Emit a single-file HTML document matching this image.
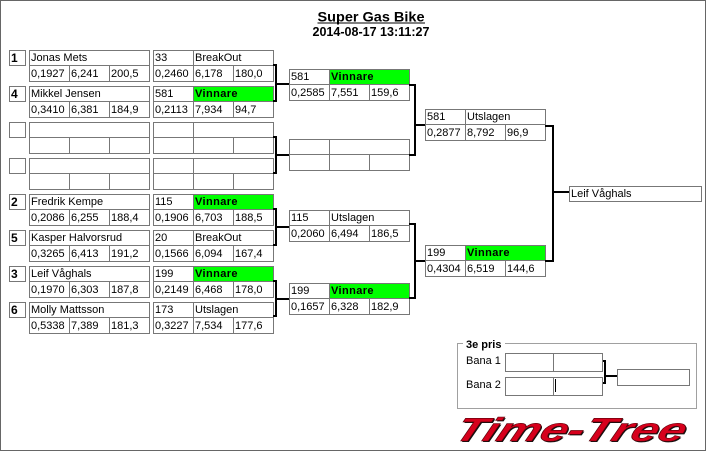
<!DOCTYPE html>
<html><head><meta charset="utf-8"><style>
html,body{margin:0;padding:0;background:#fff;}
svg{display:block;}
text{font-family:"Liberation Sans",Arial,sans-serif;font-size:11px;fill:#000;}
.b{font-weight:bold;}
.v{font-weight:bold;letter-spacing:0.4px;}
.g{fill:#00ff00;}
</style></head><body>
<svg width="706" height="452" viewBox="0 0 706 452" xmlns="http://www.w3.org/2000/svg">
<defs>
<g id="seed"><rect x="9.5" y="0.5" width="16" height="15" fill="none" stroke="#777"/></g>
<g id="nb" fill="none" stroke="#777"><rect x="0.5" y="0.5" width="120" height="31"/><path d="M0.5 15.5H120.5M40.5 15.5V31.5M80.5 15.5V31.5"/></g>
<g id="box" fill="none" stroke="#777"><rect x="0.5" y="0.5" width="120" height="31"/><path d="M0.5 15.5H120.5M40.5 0.5V31.5M80.5 15.5V31.5"/></g>
</defs>
<rect x="0.5" y="0.5" width="705" height="450" fill="#fff" stroke="#666"/>

<!-- title -->
<text x="371" y="21.5" text-anchor="middle" class="b" style="font-size:14px" textLength="107" lengthAdjust="spacingAndGlyphs">Super Gas Bike</text>
<line x1="317.5" y1="23" x2="425" y2="23" stroke="#000" stroke-width="1"/>
<text x="371" y="36" text-anchor="middle" class="b" style="font-size:13px" textLength="117" lengthAdjust="spacingAndGlyphs">2014-08-17 13:11:27</text>

<!-- green fills -->
<rect class="g" x="194" y="87" width="79" height="14"/>
<rect class="g" x="194" y="195" width="79" height="14"/>
<rect class="g" x="194" y="267" width="79" height="14"/>
<rect class="g" x="330" y="70" width="79" height="14"/>
<rect class="g" x="330" y="284" width="79" height="14"/>
<rect class="g" x="466" y="246" width="79" height="14"/>

<!-- round 1 frames -->
<use href="#seed" y="50"/><use href="#nb" x="29" y="50"/><use href="#box" x="153" y="50"/>
<use href="#seed" y="86"/><use href="#nb" x="29" y="86"/><use href="#box" x="153" y="86"/>
<use href="#seed" y="122"/><use href="#nb" x="29" y="122"/><use href="#box" x="153" y="122"/>
<use href="#seed" y="158"/><use href="#nb" x="29" y="158"/><use href="#box" x="153" y="158"/>
<use href="#seed" y="194"/><use href="#nb" x="29" y="194"/><use href="#box" x="153" y="194"/>
<use href="#seed" y="230"/><use href="#nb" x="29" y="230"/><use href="#box" x="153" y="230"/>
<use href="#seed" y="266"/><use href="#nb" x="29" y="266"/><use href="#box" x="153" y="266"/>
<use href="#seed" y="302"/><use href="#nb" x="29" y="302"/><use href="#box" x="153" y="302"/>

<!-- round 2/3 frames -->
<use href="#box" x="289" y="69"/>
<use href="#box" x="289" y="139"/>
<use href="#box" x="289" y="210"/>
<use href="#box" x="289" y="283"/>
<use href="#box" x="425" y="109"/>
<use href="#box" x="425" y="245"/>
<rect x="569.5" y="186.5" width="132" height="15" fill="none" stroke="#777"/>

<!-- brackets -->
<g fill="none" stroke="#000" stroke-width="2">
<path d="M273 65H276V101H273M276 84H289"/>
<path d="M273 137H276V173H273M276 155H289"/>
<path d="M273 209H276V245H273M276 227H289"/>
<path d="M273 281H276V316H273M276 299H289"/>
<path d="M409 85H415V155H409M415 125H425"/>
<path d="M409 224H415V298H409M415 261H425"/>
<path d="M545 126H553V261H545M553 192H569"/>
<path d="M602 361H605V383H602M605 376H617"/>
</g>

<!-- entry 1 -->
<text x="11" y="62" class="b" style="font-size:12px">1</text>
<text x="31" y="61">Jonas Mets</text>
<text x="31" y="77">0,1927</text><text x="71" y="77">6,241</text><text x="111" y="77">200,5</text>
<text x="155" y="61">33</text><text x="195" y="61">BreakOut</text>
<text x="155" y="77">0,2460</text><text x="195" y="77">6,178</text><text x="235" y="77">180,0</text>
<!-- entry 2 -->
<text x="11" y="98" class="b" style="font-size:12px">4</text>
<text x="31" y="97">Mikkel Jensen</text>
<text x="31" y="113">0,3410</text><text x="71" y="113">6,381</text><text x="111" y="113">184,9</text>
<text x="155" y="97">581</text><text x="195" y="97" class="v">Vinnare</text>
<text x="155" y="113">0,2113</text><text x="195" y="113">7,934</text><text x="235" y="113">94,7</text>
<!-- entry 5 -->
<text x="11" y="206" class="b" style="font-size:12px">2</text>
<text x="31" y="205">Fredrik Kempe</text>
<text x="31" y="221">0,2086</text><text x="71" y="221">6,255</text><text x="111" y="221">188,4</text>
<text x="155" y="205">115</text><text x="195" y="205" class="v">Vinnare</text>
<text x="155" y="221">0,1906</text><text x="195" y="221">6,703</text><text x="235" y="221">188,5</text>
<!-- entry 6 -->
<text x="11" y="242" class="b" style="font-size:12px">5</text>
<text x="31" y="241">Kasper Halvorsrud</text>
<text x="31" y="257">0,3265</text><text x="71" y="257">6,413</text><text x="111" y="257">191,2</text>
<text x="155" y="241">20</text><text x="195" y="241">BreakOut</text>
<text x="155" y="257">0,1566</text><text x="195" y="257">6,094</text><text x="235" y="257">167,4</text>
<!-- entry 7 -->
<text x="11" y="278" class="b" style="font-size:12px">3</text>
<text x="31" y="277">Leif Våghals</text>
<text x="31" y="293">0,1970</text><text x="71" y="293">6,303</text><text x="111" y="293">187,8</text>
<text x="155" y="277">199</text><text x="195" y="277" class="v">Vinnare</text>
<text x="155" y="293">0,2149</text><text x="195" y="293">6,468</text><text x="235" y="293">178,0</text>
<!-- entry 8 -->
<text x="11" y="314" class="b" style="font-size:12px">6</text>
<text x="31" y="313">Molly Mattsson</text>
<text x="31" y="329">0,5338</text><text x="71" y="329">7,389</text><text x="111" y="329">181,3</text>
<text x="155" y="313">173</text><text x="195" y="313">Utslagen</text>
<text x="155" y="329">0,3227</text><text x="195" y="329">7,534</text><text x="235" y="329">177,6</text>

<!-- round 2 -->
<text x="291" y="80">581</text><text x="331" y="80" class="v">Vinnare</text>
<text x="291" y="96">0,2585</text><text x="331" y="96">7,551</text><text x="371" y="96">159,6</text>
<text x="291" y="221">115</text><text x="331" y="221">Utslagen</text>
<text x="291" y="237">0,2060</text><text x="331" y="237">6,494</text><text x="371" y="237">186,5</text>
<text x="291" y="294">199</text><text x="331" y="294" class="v">Vinnare</text>
<text x="291" y="310">0,1657</text><text x="331" y="310">6,328</text><text x="371" y="310">182,9</text>
<!-- round 3 -->
<text x="427" y="120">581</text><text x="467" y="120">Utslagen</text>
<text x="427" y="136">0,2877</text><text x="467" y="136">8,792</text><text x="507" y="136">96,9</text>
<text x="427" y="256">199</text><text x="467" y="256" class="v">Vinnare</text>
<text x="427" y="272">0,4304</text><text x="467" y="272">6,519</text><text x="507" y="272">144,6</text>
<!-- final -->
<text x="571" y="197">Leif Våghals</text>

<!-- 3e pris -->
<rect x="457.5" y="343.5" width="239" height="65" fill="none" stroke="#a0a0a0"/>
<rect x="463" y="338" width="42" height="12" fill="#fff"/>
<text x="466" y="348" class="b">3e pris</text>
<text x="466" y="364">Bana 1</text>
<text x="466" y="388">Bana 2</text>
<g fill="none" stroke="#777">
<rect x="505.5" y="353.5" width="97" height="18"/><line x1="553.5" y1="353.5" x2="553.5" y2="371.5"/>
<rect x="505.5" y="377.5" width="97" height="18"/><line x1="553.5" y1="377.5" x2="553.5" y2="395.5"/>
<rect x="617.5" y="369.5" width="72" height="16"/>
</g>
<line x1="555.5" y1="379" x2="555.5" y2="392" stroke="#000"/>

<!-- logo -->
<g transform="translate(452,441) skewX(-22)">
<text x="1.5" y="1" class="b" style="font-size:33px;font-style:italic;fill:#111" textLength="230" lengthAdjust="spacingAndGlyphs">Time-Tree</text>
<text x="0" y="0" class="b" style="font-size:33px;font-style:italic;fill:#d6001c;stroke:#5a0008;stroke-width:0.6" textLength="230" lengthAdjust="spacingAndGlyphs">Time-Tree</text>
</g>
</svg>
</body></html>
